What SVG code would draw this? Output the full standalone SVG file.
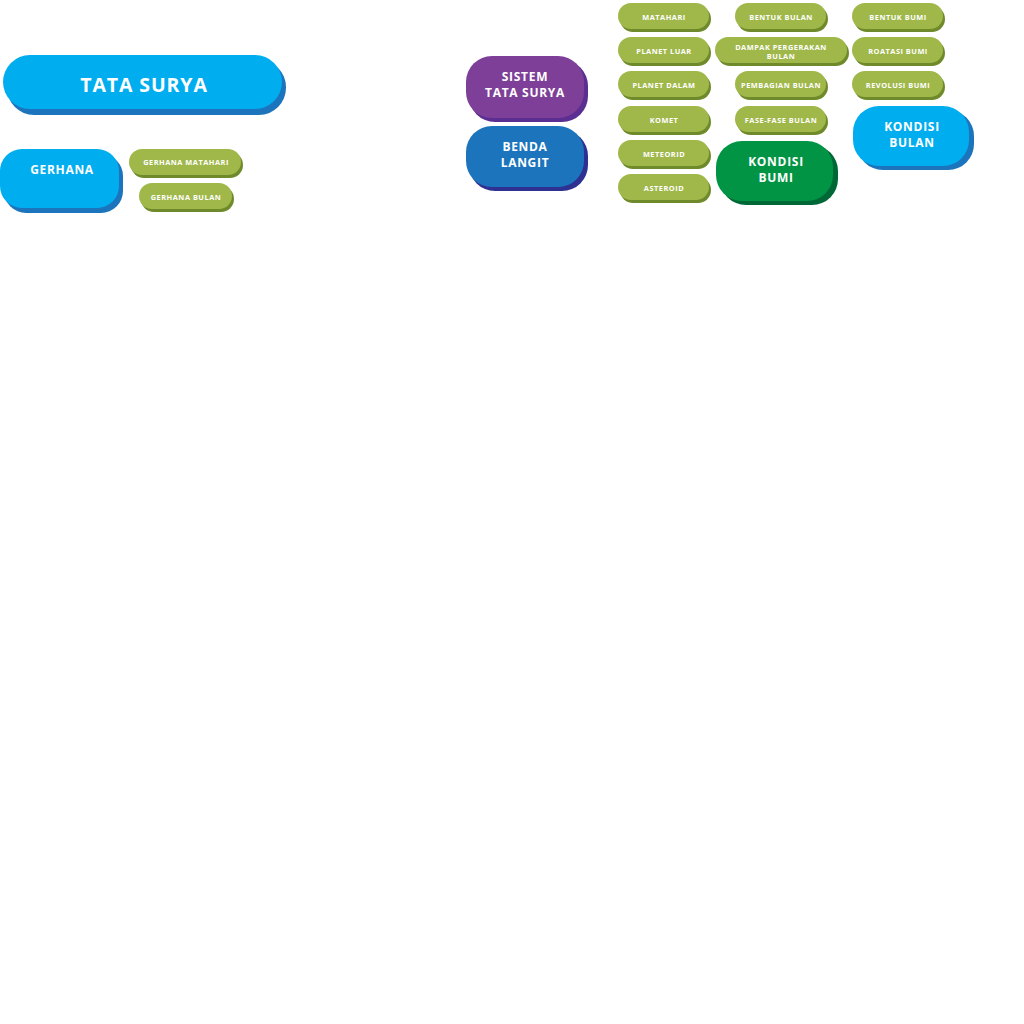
<svg xmlns="http://www.w3.org/2000/svg" width="1024" height="1024" viewBox="0 0 1024 1024">
  <style>
    text { font-family: "Open Sans", "Liberation Sans", sans-serif; font-weight: 700; fill: #ffffff; text-anchor: middle; dominant-baseline: central; }
    .t-xl { font-size: 19.5px; letter-spacing: 0.9px; }
    .t-md { font-size: 12px; letter-spacing: 0.7px; }
    .t-sm { font-size: 7.4px; letter-spacing: 0.5px; }
    .blue { fill: #00AEEF; } .blue-s { fill: #1C75BC; }
    .purple { fill: #7E3F98; } .purple-s { fill: #5B2F91; }
    .navy { fill: #1C75BC; } .navy-s { fill: #2E3192; }
    .olive { fill: #A0B84A; } .olive-s { fill: #6F8A2B; }
    .green { fill: #009444; } .green-s { fill: #006837; }
  </style>
  <rect width="1024" height="1024" fill="#ffffff"/>

  <!-- main topics -->
  <g id="tata-surya">
    <rect class="blue-s" x="7" y="60" width="279" height="55" rx="27"/>
    <rect class="blue" x="3" y="55" width="279" height="54" rx="27"/>
    <text class="t-xl" x="144" y="84">TATA SURYA</text>
  </g>
  <g id="gerhana">
    <rect class="blue-s" x="4" y="154" width="119" height="59" rx="22"/>
    <rect class="blue" x="0" y="149" width="119" height="59" rx="22"/>
    <text class="t-md" x="62" y="169">GERHANA</text>
  </g>
  <g id="gerhana-matahari">
    <rect class="olive-s" x="131" y="152" width="112" height="26" rx="13"/>
    <rect class="olive" x="129" y="149" width="112" height="26" rx="13"/>
    <text class="t-sm" x="186" y="162">GERHANA MATAHARI</text>
  </g>
  <g id="gerhana-bulan">
    <rect class="olive-s" x="141" y="186" width="93" height="26" rx="13"/>
    <rect class="olive" x="139" y="183" width="93" height="26" rx="13"/>
    <text class="t-sm" x="186" y="197">GERHANA BULAN</text>
  </g>

  <g id="sistem-tata-surya">
    <rect class="purple-s" x="469" y="60" width="119" height="62" rx="26"/>
    <rect class="purple" x="466" y="56" width="118" height="62" rx="26"/>
    <text class="t-md" x="525" y="76">SISTEM</text>
    <text class="t-md" x="525" y="92">TATA SURYA</text>
  </g>
  <g id="benda-langit">
    <rect class="navy-s" x="469" y="130" width="119" height="61" rx="26"/>
    <rect class="navy" x="466" y="126" width="118" height="61" rx="26"/>
    <text class="t-md" x="525" y="146">BENDA</text>
    <text class="t-md" x="525" y="162">LANGIT</text>
  </g>

  <!-- benda langit column -->
  <g id="matahari">
    <rect class="olive-s" x="620" y="6" width="91" height="26" rx="13"/>
    <rect class="olive" x="618" y="3" width="91" height="26" rx="13"/>
    <text class="t-sm" x="664" y="17">MATAHARI</text>
  </g>
  <g id="planet-luar">
    <rect class="olive-s" x="620" y="40" width="91" height="26" rx="13"/>
    <rect class="olive" x="618" y="37" width="91" height="26" rx="13"/>
    <text class="t-sm" x="664" y="51">PLANET LUAR</text>
  </g>
  <g id="planet-dalam">
    <rect class="olive-s" x="620" y="74" width="91" height="26" rx="13"/>
    <rect class="olive" x="618" y="71" width="91" height="26" rx="13"/>
    <text class="t-sm" x="664" y="85">PLANET DALAM</text>
  </g>
  <g id="komet">
    <rect class="olive-s" x="620" y="109" width="91" height="26" rx="13"/>
    <rect class="olive" x="618" y="106" width="91" height="26" rx="13"/>
    <text class="t-sm" x="664" y="120">KOMET</text>
  </g>
  <g id="meteorid">
    <rect class="olive-s" x="620" y="143" width="91" height="26" rx="13"/>
    <rect class="olive" x="618" y="140" width="91" height="26" rx="13"/>
    <text class="t-sm" x="664" y="154">METEORID</text>
  </g>
  <g id="asteroid">
    <rect class="olive-s" x="620" y="177" width="91" height="26" rx="13"/>
    <rect class="olive" x="618" y="174" width="91" height="26" rx="13"/>
    <text class="t-sm" x="664" y="188">ASTEROID</text>
  </g>

  <!-- bulan column -->
  <g id="bentuk-bulan">
    <rect class="olive-s" x="737" y="6" width="91" height="26" rx="13"/>
    <rect class="olive" x="735" y="3" width="91" height="26" rx="13"/>
    <text class="t-sm" x="781" y="17">BENTUK BULAN</text>
  </g>
  <g id="dampak-pergerakan-bulan">
    <rect class="olive-s" x="717" y="40" width="132" height="26" rx="13"/>
    <rect class="olive" x="715" y="37" width="132" height="26" rx="13"/>
    <text class="t-sm" x="781" y="47">DAMPAK PERGERAKAN</text>
    <text class="t-sm" x="781" y="56">BULAN</text>
  </g>
  <g id="pembagian-bulan">
    <rect class="olive-s" x="737" y="74" width="91" height="26" rx="13"/>
    <rect class="olive" x="735" y="71" width="91" height="26" rx="13"/>
    <text class="t-sm" x="781" y="85">PEMBAGIAN BULAN</text>
  </g>
  <g id="fase-fase-bulan">
    <rect class="olive-s" x="737" y="109" width="91" height="26" rx="13"/>
    <rect class="olive" x="735" y="106" width="91" height="26" rx="13"/>
    <text class="t-sm" x="781" y="120">FASE-FASE BULAN</text>
  </g>
  <g id="kondisi-bumi">
    <rect class="green-s" x="720" y="145" width="118" height="60" rx="26"/>
    <rect class="green" x="716" y="141" width="117" height="60" rx="26"/>
    <text class="t-md" x="776" y="161">KONDISI</text>
    <text class="t-md" x="776" y="177">BUMI</text>
  </g>

  <!-- bumi column -->
  <g id="bentuk-bumi">
    <rect class="olive-s" x="854" y="6" width="91" height="26" rx="13"/>
    <rect class="olive" x="852" y="3" width="91" height="26" rx="13"/>
    <text class="t-sm" x="898" y="17">BENTUK BUMI</text>
  </g>
  <g id="roatasi-bumi">
    <rect class="olive-s" x="854" y="40" width="91" height="26" rx="13"/>
    <rect class="olive" x="852" y="37" width="91" height="26" rx="13"/>
    <text class="t-sm" x="898" y="51">ROATASI BUMI</text>
  </g>
  <g id="revolusi-bumi">
    <rect class="olive-s" x="854" y="74" width="91" height="26" rx="13"/>
    <rect class="olive" x="852" y="71" width="91" height="26" rx="13"/>
    <text class="t-sm" x="898" y="85">REVOLUSI BUMI</text>
  </g>
  <g id="kondisi-bulan">
    <rect class="blue-s" x="857" y="110" width="117" height="60" rx="26"/>
    <rect class="blue" x="853" y="106" width="116" height="60" rx="26"/>
    <text class="t-md" x="912" y="126">KONDISI</text>
    <text class="t-md" x="912" y="142">BULAN</text>
  </g>

  <!-- no connectors are drawn between the topics -->
  <g id="connectors"/>
</svg>
